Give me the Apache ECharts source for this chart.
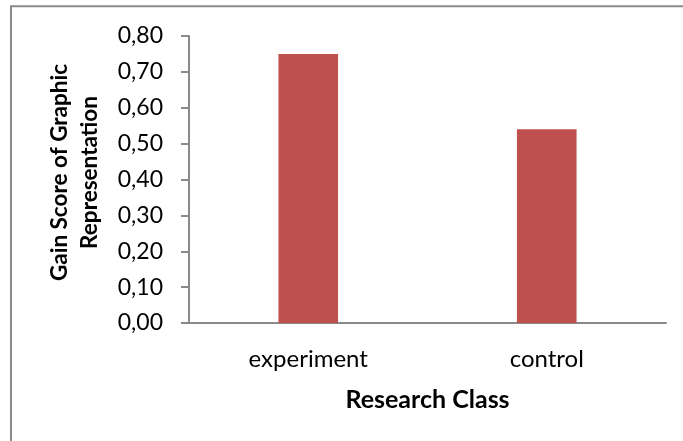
<!DOCTYPE html>
<html>
<head>
<meta charset="utf-8">
<title>Gain Score of Graphic Representation</title>
<script src="https://cdn.jsdelivr.net/npm/echarts@6/dist/echarts.min.js"></script>
<style>
  html, body { margin: 0; padding: 0; background: #ffffff; }
  #chart { width: 683px; height: 441px; }
</style>
</head>
<body>
<div id="chart"></div>
<script>
// Research classes and their mean gain scores
const classes = ['experiment', 'control'];
const gainScores = [0.75, 0.54];
const yTicks = { min: 0, max: 0.8, step: 0.1 };

const fontFamily = 'Lato, "Open Sans", sans-serif';
const axisGray = '#8a8a8a';

const chart = echarts.init(document.getElementById('chart'), null, { renderer: 'canvas' });

chart.setOption({
  animation: false,
  backgroundColor: '#ffffff',
  grid: { left: 189, right: 17, top: 36, bottom: 118, containLabel: false },
  graphic: [{
    type: 'rect',
    silent: true,
    shape: { x: 11, y: 6.3, width: 720, height: 480 },
    style: { fill: 'none', stroke: '#8c8c8c', lineWidth: 2 }
  }],
  xAxis: {
    type: 'category',
    data: classes,
    name: 'Research Class',
    nameLocation: 'middle',
    nameGap: 64,
    nameTextStyle: { fontFamily, fontSize: 25, fontWeight: 'bold', color: '#000' },
    axisLine: { lineStyle: { color: axisGray, width: 2 } },
    axisTick: { show: false },
    axisLabel: { fontFamily, fontSize: 24, color: '#000', margin: 24 }
  },
  yAxis: {
    type: 'value',
    min: yTicks.min,
    max: yTicks.max,
    interval: yTicks.step,
    name: 'Gain Score of Graphic\nRepresentation',
    nameLocation: 'middle',
    nameRotate: 90,
    nameGap: 84,
    nameTextStyle: {
      fontFamily, fontSize: 22.5, fontWeight: 'bold', color: '#000',
      lineHeight: 30, padding: [0, 0, 0, 14]
    },
    axisLine: { show: true, lineStyle: { color: axisGray, width: 2 } },
    axisTick: { show: true, length: 8, lineStyle: { color: axisGray, width: 2 } },
    splitLine: { show: false },
    axisLabel: {
      fontFamily, fontSize: 23, color: '#000', margin: 26,
      formatter: v => v.toFixed(2).replace('.', ',')
    }
  },
  series: [{
    type: 'bar',
    data: gainScores,
    barWidth: '25%',
    itemStyle: { color: '#c0504d' }
  }]
});
</script>
</body>
</html>
